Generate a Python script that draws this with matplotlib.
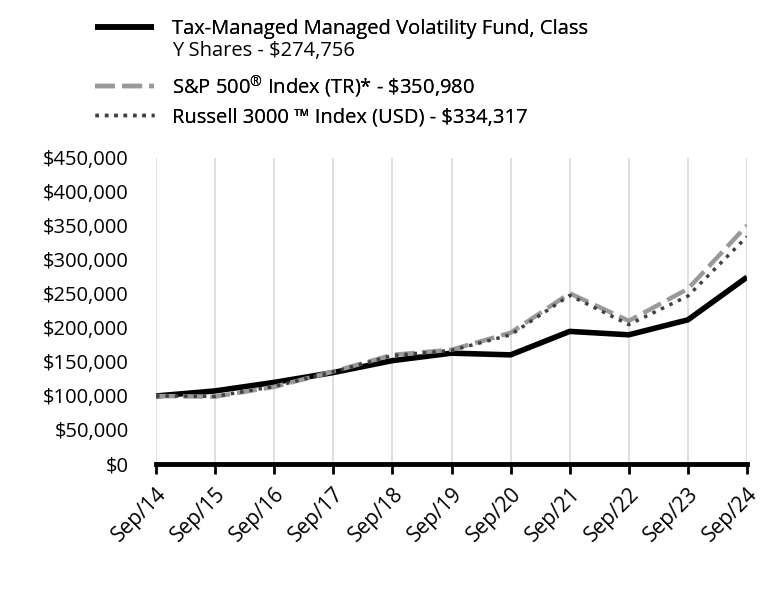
import matplotlib
matplotlib.use("Agg")
import matplotlib.pyplot as plt
from matplotlib.ticker import FuncFormatter

years = ["Sep/14", "Sep/15", "Sep/16", "Sep/17", "Sep/18", "Sep/19",
         "Sep/20", "Sep/21", "Sep/22", "Sep/23", "Sep/24"]
fund = [100000, 107500, 120000, 134500, 152000, 163000,
        160500, 195000, 190000, 212000, 274756]
sp500 = [100000, 99000, 113500, 136000, 160500, 168000,
         193000, 251000, 210500, 257500, 350980]
russell = [100000, 99500, 114000, 135500, 159500, 167000,
           190000, 248000, 205000, 247000, 334317]

labels = ["Tax-Managed Managed Volatility Fund, Class",
          "S&P 500$^{\u00ae}$ Index (TR)* - \\$350,980",
          "Russell 3000 \u2122 Index (USD) - $334,317"]
label_extra = "Y Shares - $274,756"

plt.rcParams["font.family"] = ["Open Sans", "DejaVu Sans"]
plt.rcParams["mathtext.fontset"] = "custom"
plt.rcParams["mathtext.rm"] = "Open Sans"

fig = plt.figure(figsize=(7.68, 6.12), dpi=100)
ax = fig.add_axes([156 / 768, 1 - 464 / 612, 591 / 768, 306 / 612])

x = list(range(len(years)))
l1, = ax.plot(x, fund, color="black", lw=4, solid_capstyle="butt")
l2, = ax.plot(x, sp500, color="#999999", lw=3.2, dashes=(4.5, 1.6))
l3, = ax.plot(x, russell, color="#404040", lw=2.5, dashes=(1, 1.7))

ax.set_xlim(0, len(years) - 1)
ax.set_ylim(0, 450000)
ax.set_yticks(range(0, 450001, 50000))
ax.yaxis.set_major_formatter(FuncFormatter(lambda v, p: "${:,.0f}".format(v)))
ax.set_xticks(x)
ax.set_xticklabels(years, rotation=45, ha="right", rotation_mode="anchor")
ax.tick_params(axis="y", length=0, labelsize=14.5, pad=19.5)
ax.tick_params(axis="x", length=7, width=2, labelsize=15, pad=7)
ax.grid(axis="x", color="#d9d9d9", lw=1.2)
ax.set_axisbelow(True)
for s in ["top", "right", "left"]:
    ax.spines[s].set_visible(False)
ax.spines["bottom"].set_linewidth(3.5)

# legend: one entry per row, placed like the original
rows = [29, 86, 117]
for h, lab, yy in zip([l1, l2, l3], labels, rows):
    lg = fig.legend([h], [lab], loc="center left",
                    bbox_to_anchor=(95 / 768, 1 - yy / 612),
                    frameon=False, fontsize=14.5, handlelength=2.95,
                    handletextpad=0.88, borderpad=0, borderaxespad=0)
    fig.add_artist(lg)
fig.text(172 / 768, 1 - 51 / 612, label_extra, fontsize=14.5, va="center")

fig.savefig("out.png", dpi=100)
